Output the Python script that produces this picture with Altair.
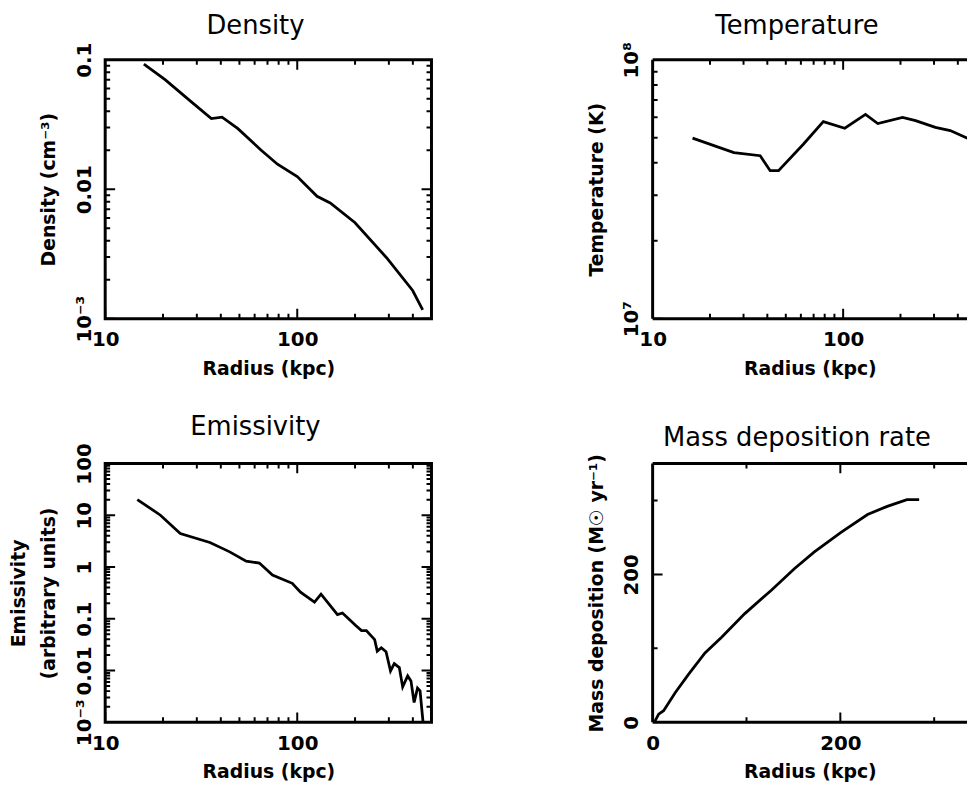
import altair as alt
import pandas as pd

# ---------------- data ----------------
dens_r = [15.9, 20.5, 28.2, 35.7, 40.6, 49.1, 64.7, 78.9, 100, 126.8, 148.5, 200, 291, 399, 450]
dens_v = [0.0926, 0.0703, 0.0471, 0.0351, 0.0360, 0.0294, 0.0201, 0.0156, 0.01253,
          0.00881, 0.00783, 0.00551, 0.00297, 0.00165, 0.00117]

temp_r = [16.2, 26.7, 36.7, 41.4, 45.8, 61.8, 78.7, 102, 131, 152, 205, 240, 305, 365, 464, 480]
temp_v = [4.98e7, 4.38e7, 4.26e7, 3.73e7, 3.73e7, 4.72e7, 5.77e7, 5.44e7, 6.15e7, 5.67e7,
          5.99e7, 5.82e7, 5.48e7, 5.33e7, 4.92e7, 4.85e7]

emis_r = [14.7, 19.4, 24.6, 35.1, 44.5, 54.2, 63.5, 74.3, 94.2, 104, 123, 133, 162, 172,
          201, 216, 229, 253, 261, 274, 290, 306, 320, 340, 354, 376, 391, 406, 423, 436, 452, 460]
emis_v = [20.1, 10.0, 4.41, 2.97, 1.96, 1.30, 1.19, 0.70, 0.484, 0.326, 0.209, 0.298, 0.120, 0.129,
          0.0747, 0.059, 0.059, 0.0396, 0.0237, 0.0275, 0.023, 0.0098, 0.0136, 0.0114, 0.00483,
          0.00785, 0.0063, 0.00242, 0.00456, 0.00405, 0.001, 0.0003]

mass_r = [2, 2.8, 6.4, 11.7, 24, 38.2, 55.8, 73.5, 98.2, 126.5, 151, 172, 200.7, 229, 250, 271, 284]
mass_v = [0.5, 2.2, 11, 15.6, 40, 64.7, 93.8, 115, 147, 178.6, 207.6, 230, 256.7, 281, 292, 301, 301]

# axis ticks / labels
log_x_domain = [10, 500]          # left column
log_x_domain_cut = [10, 447]      # right column (panel runs off the page)
log_x_major = [10, 100]
log_x_minor = [20, 30, 40, 50, 60, 70, 80, 90, 200, 300, 400]
log_x_labels = ["10", "100"]

dens_domain = [0.001, 0.1]
dens_major = [0.001, 0.01, 0.1]
dens_labels = ["10⁻³", "0.01", "0.1"]
dens_minor = [0.002, 0.003, 0.004, 0.005, 0.006, 0.007, 0.008, 0.009,
              0.02, 0.03, 0.04, 0.05, 0.06, 0.07, 0.08, 0.09]

temp_domain = [1e7, 1e8]
temp_major = [1e7, 1e8]
temp_labels = ["10⁷", "10⁸"]
temp_minor = [2e7, 3e7, 4e7, 5e7, 6e7, 7e7, 8e7, 9e7]

emis_domain = [0.001, 100]
emis_major = [0.001, 0.01, 0.1, 1, 10, 100]
emis_labels = ["10⁻³", "0.01", "0.1", "1", "10", "100"]
emis_minor = [m * d for d in [0.001, 0.01, 0.1, 1, 10] for m in [2, 3, 4, 5, 6, 7, 8, 9]]

mass_x_domain = [0, 335]
mass_y_domain = [0, 350]
mass_major = [0, 200]
mass_labels = ["0", "200"]
mass_minor = [100, 300]

W, H = 329, 261
W_CUT = 317
MAJ, MIN = 10, 5
LINE_W, TICK_W = 2.8, 2


def label_expr(values, labels):
    expr = "''"
    for v, l in zip(values, labels):
        expr = f"datum.value == {v!r} ? '{l}' : ({expr})"
    return expr


def inward(kind, dom, px, L, from_low=True):
    """End point of an inward tick of L pixels starting at one end of the domain."""
    lo, hi = dom
    if kind == "log":
        f = (hi / lo) ** (L / px)
        return lo * f if from_low else hi / f
    d = (hi - lo) * L / px
    return lo + d if from_low else hi - d


def panel_table(r, v, xkind, xdom, ykind, ydom, xmaj, xmin, ymaj, ymin, width, right):
    # the data curve (group 0) plus one two-point group per inward tick mark
    rows = [(0, i, rr, vv, LINE_W) for i, (rr, vv) in enumerate(zip(r, v))]
    n = 1
    for vals, L in ((xmaj, MAJ), (xmin, MIN)):
        for t in vals:
            for lo_side in (True, False):
                y0 = ydom[0] if lo_side else ydom[1]
                y1 = inward(ykind, ydom, H, L, lo_side)
                rows += [(n, 0, t, y0, TICK_W), (n, 1, t, y1, TICK_W)]
                n += 1
    for vals, L in ((ymaj, MAJ), (ymin, MIN)):
        for u in vals:
            sides = (True, False) if right else (True,)
            for lo_side in sides:
                x0 = xdom[0] if lo_side else xdom[1]
                x1 = inward(xkind, xdom, width, L, lo_side)
                rows += [(n, 0, x0, u, TICK_W), (n, 1, x1, u, TICK_W)]
                n += 1
    return pd.DataFrame(rows, columns=["id", "k", "r", "v", "w"])


def panel(r, v, title, xkind, xdom, ykind, ydom, xmaj, xmin, xlab, ymaj, ymin, ylab, ytitle,
          width=W, cut=False):
    xscale = alt.Scale(type=xkind, domain=xdom, nice=False, zero=False)
    yscale = alt.Scale(type=ykind, domain=ydom, nice=False, zero=False)
    df = panel_table(r, v, xkind, xdom, ykind, ydom, xmaj, xmin, ymaj, ymin, width, not cut)
    xaxis = alt.Axis(values=xmaj, labelExpr=label_expr(xmaj, xlab), title="Radius (kpc)",
                     labelAngle=0, labelPadding=11, titlePadding=10)
    yaxis = alt.Axis(values=ymaj, labelExpr=label_expr(ymaj, ylab), title=ytitle,
                     labelAngle=270, labelAlign="center", labelBaseline="bottom",
                     labelPadding=11, titlePadding=16)
    line = alt.Chart(df).mark_line(color="black", clip=True).encode(
        x=alt.X("r:Q", scale=xscale, axis=xaxis),
        y=alt.Y("v:Q", scale=yscale, axis=yaxis),
        detail="id:N",
        order="k:Q",
        strokeWidth=alt.StrokeWidth("w:Q", scale=None),
    )
    layers = [line]

    props = dict(width=width, height=H, title=title)
    if cut:
        # frame drawn by hand: top, bottom and left edges only (right edge is off the page)
        frame = alt.Chart(pd.DataFrame({"q": [0]})).mark_rule(color="black", strokeWidth=3)
        layers += [
            frame.encode(x=alt.value(0), x2=alt.value(width), y=alt.value(0)),
            frame.encode(x=alt.value(0), x2=alt.value(width), y=alt.value(H)),
            frame.encode(x=alt.value(0), y=alt.value(0), y2=alt.value(H)),
        ]
        props["view"] = alt.ViewBackground(stroke="transparent")
    return alt.layer(*layers).resolve_axis(x="independent", y="independent").properties(**props)


p1 = panel(dens_r, dens_v, "Density", "log", log_x_domain, "log", dens_domain,
           log_x_major, log_x_minor, log_x_labels, dens_major, dens_minor, dens_labels,
           ["", "Density (cm⁻³)"])
p2 = panel(temp_r, temp_v, "Temperature", "log", log_x_domain_cut, "log", temp_domain,
           log_x_major, log_x_minor, log_x_labels, temp_major, temp_minor, temp_labels,
           "Temperature (K)", width=W_CUT, cut=True)
p3 = panel(emis_r, emis_v, "Emissivity", "log", log_x_domain, "log", emis_domain,
           log_x_major, log_x_minor, log_x_labels, emis_major, emis_minor, emis_labels,
           ["Emissivity", "(arbitrary units)"])
p4 = panel(mass_r, mass_v, "Mass deposition rate", "linear", mass_x_domain, "linear", mass_y_domain,
           mass_major, mass_minor, mass_labels, mass_major, mass_minor, mass_labels,
           "Mass deposition (M☉ yr⁻¹)", width=W_CUT, cut=True)

row1 = alt.hconcat(p1, p2, spacing=223, bounds="flush")
row2 = alt.hconcat(p3, p4, spacing=223, bounds="flush")

chart = alt.vconcat(row1, row2, spacing=32).configure_view(
    stroke="black", strokeWidth=3
).configure_axis(
    labelFont="DejaVu Sans", labelFontSize=20, labelFontWeight="bold", labelColor="black",
    titleFont="DejaVu Sans", titleFontSize=19, titleFontWeight="bold", titleColor="black",
    domain=False, ticks=False, tickSize=0, grid=False,
    labelFlush=False, labelOverlap=False, labelBound=False, titleLineHeight=30,
).configure_title(
    font="DejaVu Sans", fontSize=26, fontWeight="normal", color="black",
    anchor="middle", frame="group", dx=-13, offset=3,
).properties(
    padding={"left": 0, "top": 0, "right": 0, "bottom": 0}
)

chart.save("out.html", embed_options={"renderer": "svg", "actions": False})
